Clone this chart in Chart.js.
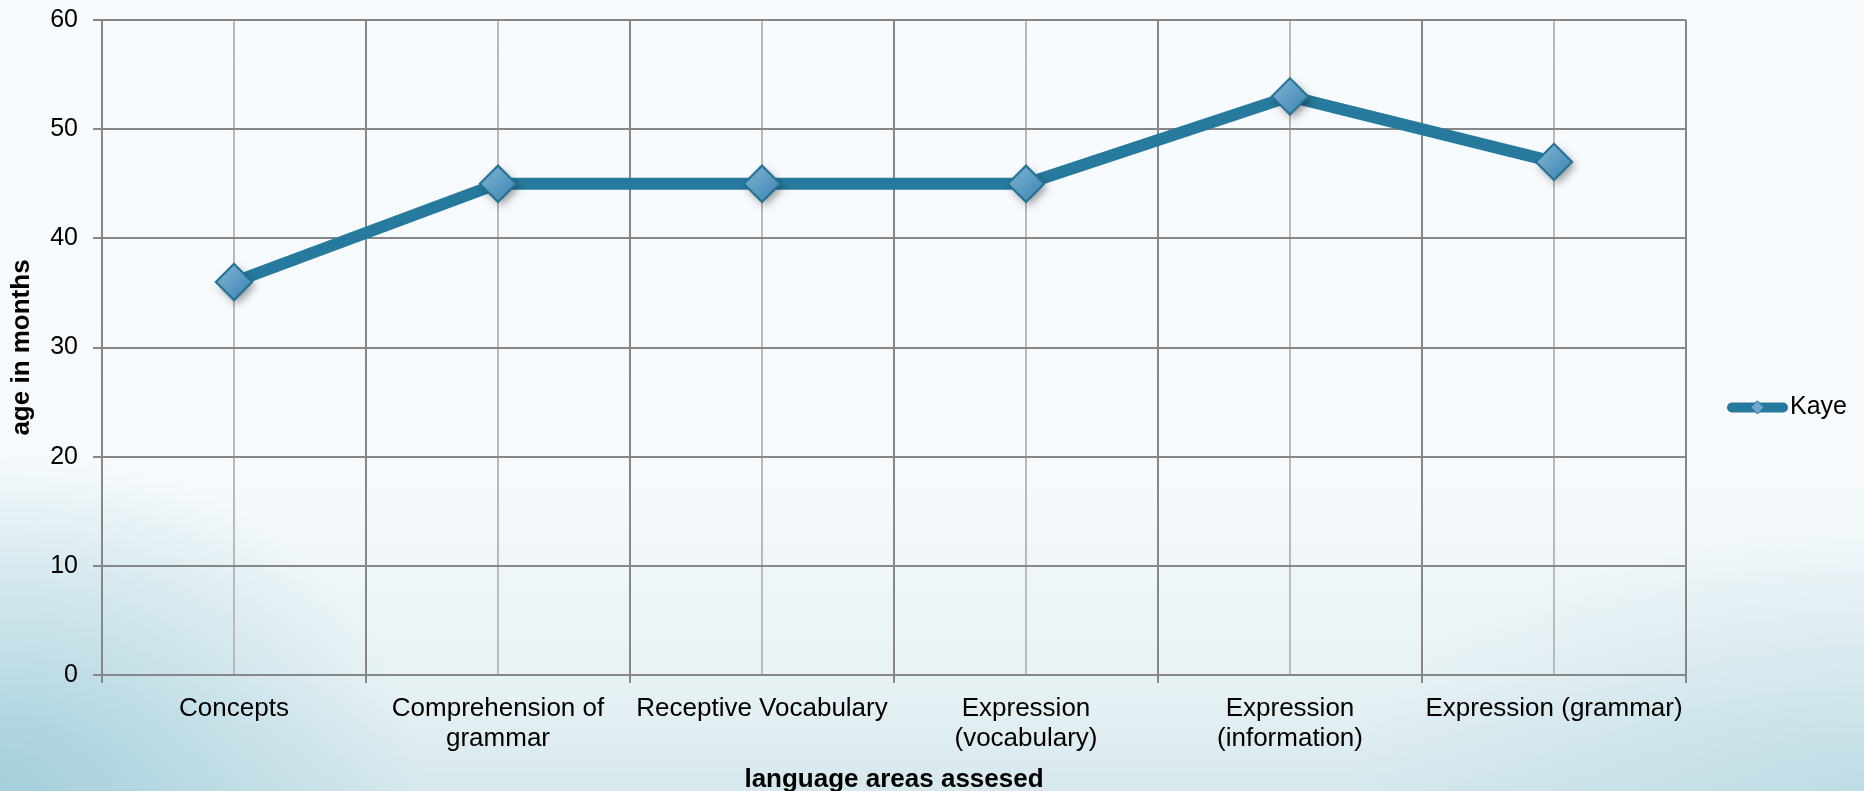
<!DOCTYPE html>
<html>
<head>
<meta charset="utf-8">
<title>age in months</title>
<script src="https://cdn.jsdelivr.net/npm/chart.js@4.4.0/dist/chart.umd.min.js"></script>
<style>
html, body { margin: 0; padding: 0; }
body {
  width: 1864px;
  height: 791px;
  overflow: hidden;
  background:
    radial-gradient(ellipse 420px 340px at 0% 100%, rgba(150,200,214,0.8), rgba(150,200,214,0) 100%),
    radial-gradient(ellipse 520px 260px at 100% 100%, rgba(170,210,222,0.55), rgba(170,210,222,0) 100%),
    linear-gradient(to bottom, #f8fbfd 0%, #f6fafc 60%, #e8f2f5 86%, #d6e8ed 100%);
}
.chart-box { position: relative; width: 1864px; height: 791px; }
</style>
</head>
<body>
<div class="chart-box"><canvas id="chart"></canvas></div>
<script>
// data
const categories = [
  'Concepts',
  ['Comprehension of', 'grammar'],
  'Receptive Vocabulary',
  ['Expression', '(vocabulary)'],
  ['Expression', '(information)'],
  'Expression (grammar)'
];
const kaye = [36, 45, 45, 45, 53, 47];
const seriesName = 'Kaye';
const yMin = 0, yMax = 60, yStep = 10;
const yTitle = 'age in months';
const xTitle = 'language areas assesed';

const FONT = "'Liberation Sans', Arial, sans-serif";
const lineColor = 'rgb(38,122,157)';
const gridDark = '#878787';
const gridLight = '#b9b9b9';

// re-draws the diamonds with a shading + drop shadow
const markerShade = {
  id: 'markerShade',
  afterDatasetsDraw(chart) {
    const ctx = chart.ctx;
    chart.getDatasetMeta(0).data.forEach(pt => {
      const r = pt.options.radius;
      const g = ctx.createLinearGradient(pt.x - r, pt.y - r, pt.x + r, pt.y + r);
      g.addColorStop(0, 'rgb(132,182,214)');
      g.addColorStop(1, 'rgb(56,130,176)');
      ctx.save();
      ctx.shadowColor = 'rgba(0,0,0,0.4)';
      ctx.shadowBlur = 8;
      ctx.shadowOffsetX = 3;
      ctx.shadowOffsetY = 4;
      ctx.fillStyle = g;
      ctx.strokeStyle = 'rgb(38,116,150)';
      ctx.lineWidth = 2;
      ctx.beginPath();
      ctx.moveTo(pt.x, pt.y - r);
      ctx.lineTo(pt.x + r, pt.y);
      ctx.lineTo(pt.x, pt.y + r);
      ctx.lineTo(pt.x - r, pt.y);
      ctx.closePath();
      ctx.fill();
      ctx.shadowColor = 'transparent';
      ctx.stroke();
      ctx.restore();
    });
  }
};

// legend on the right: thick line with small diamond, then the name
const sideLegend = {
  id: 'sideLegend',
  afterDraw(chart) {
    const ctx = chart.ctx;
    const ds = chart.data.datasets[0];
    const x0 = chart.chartArea.right + 41;
    const x1 = x0 + 61;
    const y = chart.height / 2 + 12;
    const mid = (x0 + x1) / 2;
    ctx.save();
    ctx.strokeStyle = ds.borderColor;
    ctx.lineWidth = 10;
    ctx.lineCap = 'round';
    ctx.beginPath();
    ctx.moveTo(x0 + 5, y);
    ctx.lineTo(x1 - 5, y);
    ctx.stroke();
    ctx.fillStyle = 'rgb(110,165,205)';
    ctx.strokeStyle = 'rgb(38,116,150)';
    ctx.lineWidth = 1;
    ctx.beginPath();
    ctx.moveTo(mid, y - 6.5);
    ctx.lineTo(mid + 6.5, y);
    ctx.lineTo(mid, y + 6.5);
    ctx.lineTo(mid - 6.5, y);
    ctx.closePath();
    ctx.fill();
    ctx.stroke();
    ctx.fillStyle = '#000';
    ctx.font = '25px ' + FONT;
    ctx.textAlign = 'left';
    ctx.textBaseline = 'middle';
    ctx.fillText(ds.label, x1 + 2, y);
    ctx.restore();
  }
};

new Chart(document.getElementById('chart'), {
  type: 'line',
  data: {
    labels: categories,
    datasets: [{
      label: seriesName,
      data: kaye,
      borderColor: lineColor,
      borderWidth: 12,
      tension: 0,
      pointStyle: 'rectRot',
      pointRadius: 18,
      pointHoverRadius: 18,
      pointBorderWidth: 2,
      pointBackgroundColor: 'rgb(88,152,192)',
      pointBorderColor: 'rgb(38,116,150)'
    }]
  },
  options: {
    responsive: true,
    maintainAspectRatio: false,
    animation: false,
    events: [],
    layout: { padding: { top: 20, right: 178, bottom: 0, left: 0 } },
    plugins: {
      legend: { display: false },
      tooltip: { enabled: false }
    },
    scales: {
      x: {
        offset: true,
        grid: { offset: true, color: gridDark, lineWidth: 2, tickLength: 8, drawTicks: true },
        border: { color: gridDark, width: 2 },
        ticks: {
          color: '#000',
          font: { family: FONT, size: 26, lineHeight: 1.15 },
          maxRotation: 0,
          minRotation: 0,
          autoSkip: false,
          padding: 11
        },
        title: {
          display: true,
          text: xTitle,
          color: '#000',
          font: { family: FONT, size: 26, weight: 'bold', lineHeight: 0.85 },
          padding: { top: 0, bottom: 0 }
        },
        afterFit(scale) { scale.height = 116; }
      },
      // second category axis only for the lighter lines through each category
      xMid: {
        type: 'category',
        labels: categories,
        position: 'bottom',
        offset: true,
        grid: { offset: false, color: gridLight, lineWidth: 2, drawTicks: false },
        border: { display: false },
        ticks: { display: false }
      },
      y: {
        min: yMin,
        max: yMax,
        ticks: {
          stepSize: yStep,
          color: '#000',
          font: { family: FONT, size: 25 },
          padding: 15
        },
        grid: { color: gridDark, lineWidth: 2, tickLength: 9 },
        border: { color: gridDark, width: 2 },
        title: {
          display: true,
          text: yTitle,
          color: '#000',
          font: { family: FONT, size: 26, weight: 'bold' },
          padding: { top: 6, bottom: 0 }
        },
        afterFit(scale) {
          scale.width = 102;
          scale.paddingTop = 0;
        }
      }
    }
  },
  plugins: [markerShade, sideLegend]
});
</script>
</body>
</html>
